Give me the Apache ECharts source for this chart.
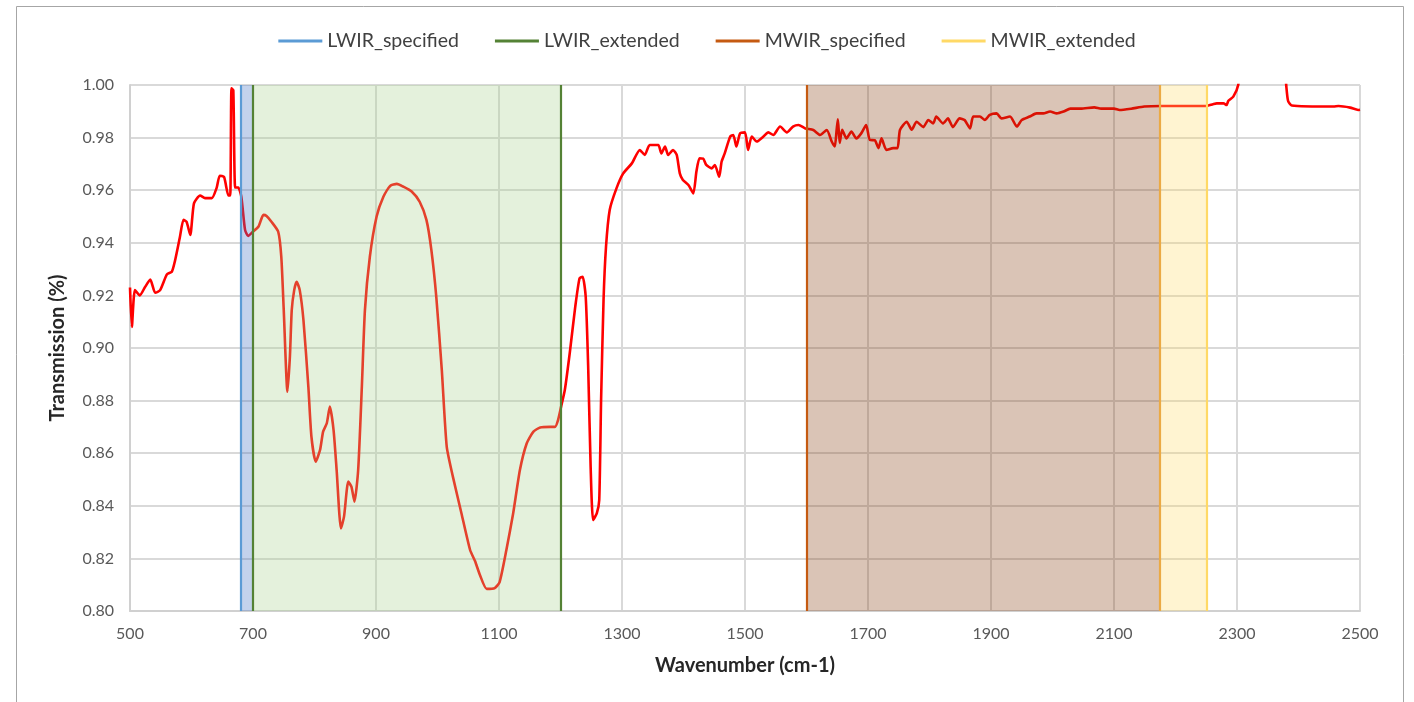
<!DOCTYPE html>
<html>
<head>
<meta charset="utf-8">
<script src="https://cdn.jsdelivr.net/npm/echarts@6/dist/echarts.min.js"></script>
<style>
html,body{margin:0;padding:0;background:#fff;}
#chart{width:1414px;height:702px;}
</style>
</head>
<body>
<div id="chart"></div>
<script>
// ---- data ----
const wavenumber = [500,503,508,516,524,533,541,549,560,568,573,581,587,592,598,604,614,622,633,641,646,653,660,663,665,668,671,676,681,687,692,700,709,717,722,730,741,746,750,756,760,763,767,771,776,782,790,795,802,809,814,820,825,831,836,843,848,855,860,865,871,877,882,890,901,912,923,934,944,958,971,982,990,998,1007,1015,1025,1039,1053,1061,1069,1080,1093,1101,1112,1123,1134,1145,1156,1167,1183,1191,1196,1201,1207,1215,1224,1231,1236,1241,1245,1249,1253,1259,1263,1266,1270,1274,1280,1291,1302,1316,1329,1337,1345,1359,1364,1370,1375,1383,1389,1394,1399,1408,1416,1421,1426,1432,1437,1446,1451,1458,1462,1467,1476,1481,1486,1492,1500,1505,1511,1519,1530,1538,1546,1557,1568,1578,1587,1598,1611,1622,1633,1641,1646,1649,1651,1654,1658,1665,1673,1681,1689,1697,1703,1711,1717,1722,1730,1741,1748,1752,1763,1771,1779,1790,1798,1806,1811,1822,1830,1838,1849,1857,1866,1871,1882,1890,1898,1909,1917,1931,1942,1950,1963,1974,1985,1996,2007,2018,2029,2046,2068,2079,2100,2109,2128,2149,2176,2249,2261,2267,2278,2283,2286,2294,2302,2306,2376,2380,2383,2389,2457,2465,2484,2497,2500];
const transmission = [0.923,0.908,0.922,0.920,0.923,0.926,0.921,0.922,0.928,0.929,0.933,0.942,0.9487,0.948,0.943,0.955,0.958,0.957,0.957,0.961,0.9655,0.965,0.958,0.958,0.9987,0.998,0.961,0.961,0.9575,0.945,0.9426,0.9442,0.9462,0.9506,0.9502,0.948,0.9442,0.9347,0.9144,0.8834,0.8967,0.9144,0.922,0.9252,0.922,0.9107,0.8853,0.8663,0.8568,0.8612,0.8682,0.8714,0.8777,0.8688,0.8536,0.8314,0.8359,0.8492,0.8473,0.8416,0.8536,0.8853,0.9144,0.9347,0.950,0.9575,0.9616,0.9624,0.9614,0.9595,0.9556,0.9487,0.9373,0.9195,0.8916,0.8625,0.8511,0.8371,0.8232,0.819,0.8137,0.8084,0.8087,0.811,0.8232,0.8371,0.8536,0.8637,0.8682,0.8698,0.870,0.870,0.8726,0.8777,0.884,0.898,0.9157,0.9265,0.9271,0.9195,0.8929,0.8549,0.8346,0.8371,0.8422,0.8802,0.9183,0.9385,0.9525,0.9607,0.9664,0.9702,0.9753,0.9734,0.9772,0.9772,0.974,0.9766,0.9734,0.9753,0.9734,0.9664,0.9639,0.962,0.9588,0.9671,0.9721,0.972,0.9696,0.9683,0.9696,0.9651,0.9709,0.974,0.9804,0.981,0.9766,0.9816,0.982,0.9753,0.9804,0.9785,0.9804,0.982,0.981,0.9842,0.982,0.9842,0.9848,0.9835,0.9829,0.981,0.9829,0.9785,0.9766,0.9829,0.987,0.978,0.983,0.9797,0.9823,0.9797,0.9816,0.9848,0.9791,0.979,0.976,0.9797,0.9753,0.976,0.976,0.9829,0.986,0.983,0.986,0.984,0.9867,0.9854,0.988,0.9854,0.9873,0.984,0.9873,0.9867,0.9835,0.988,0.988,0.9867,0.9886,0.9892,0.9873,0.988,0.9842,0.9867,0.988,0.9892,0.9892,0.9899,0.9892,0.9899,0.991,0.991,0.9915,0.991,0.991,0.9905,0.991,0.9918,0.992,0.992,0.9927,0.993,0.993,0.9924,0.994,0.9956,1.000,1.01,1.01,1.000,0.994,0.9922,0.9918,0.992,0.9914,0.9905,0.9906];

const bandNames  = ['LWIR_specified','LWIR_extended','MWIR_specified','MWIR_extended'];
const bandStart  = [680, 700, 1600, 2175];
const bandEnd    = [700, 1200, 2175, 2250];
const bandEdges  = [[680], [700, 1200], [1600], [2175, 2250]];

const xTicks = {min: 500, max: 2500, interval: 200};
const yTicks = {min: 0.80, max: 1.00, interval: 0.02};

// ---- styles ----
const bandLineColors = ['#5B9BD5', '#548235', '#C55A11', '#FFD966'];
const bandEdgeColors = [['#5B9BD5'], ['#548235','#548235'], ['#C55A11'], ['#EBAA45','#FFD966']];
const bandFill = ['rgba(68,114,196,0.32)', 'rgba(169,209,142,0.31)', 'rgba(132,60,12,0.30)', 'rgba(255,217,102,0.30)'];

const FONT = 'Lato, "Open Sans", sans-serif';

const spectrum = wavenumber.map((w, i) => [w, transmission[i]]);

const bandSeries = bandNames.map((name, i) => ({
  name: name,
  type: 'line',
  z: 3,
  data: [[bandStart[i], yTicks.max], [bandEnd[i], yTicks.max]],
  showSymbol: false,
  symbol: 'none',
  lineStyle: {color: bandLineColors[i], width: 0},
  itemStyle: {color: bandLineColors[i]},
  areaStyle: {color: bandFill[i], origin: 'start', opacity: 1},
  silent: true,
  markLine: {
    silent: true,
    symbol: 'none',
    label: {show: false},
    animation: false,
    data: bandEdges[i].map((x, k) => ({
      xAxis: x,
      lineStyle: {color: bandEdgeColors[i][k], width: 2.2, type: 'solid'}
    }))
  }
}));

const chart = echarts.init(document.getElementById('chart'), null, {renderer: 'canvas'});
chart.setOption({
  animation: false,
  backgroundColor: '#ffffff',
  textStyle: {fontFamily: FONT},
  graphic: [{
    type: 'rect',
    silent: true,
    shape: {x: 16.5, y: 6.5, width: 1387, height: 720},
    style: {fill: 'none', stroke: '#A6A6A6', lineWidth: 1}
  }],
  legend: {
    data: bandNames,
    top: 25,
    left: 'center',
    icon: 'rect',
    itemWidth: 44,
    itemHeight: 3,
    itemGap: 36,
    textStyle: {fontFamily: FONT, fontSize: 19.5, color: '#404040', lineHeight: 22}
  },
  grid: {left: 130, right: 54, top: 85, bottom: 91, containLabel: false},
  xAxis: {
    type: 'value',
    min: xTicks.min, max: xTicks.max, interval: xTicks.interval,
    name: 'Wavenumber (cm-1)',
    nameLocation: 'middle',
    nameGap: 45,
    nameTextStyle: {fontFamily: FONT, fontSize: 20, fontWeight: 'bold', color: '#262626'},
    axisLine: {show: true, lineStyle: {color: '#D0D0D0', width: 2}},
    axisTick: {show: false},
    axisLabel: {fontFamily: FONT, fontSize: 16, color: '#595959', margin: 15,
      formatter: v => String(v)},
    splitLine: {show: true, lineStyle: {color: '#D9D9D9', width: 2}}
  },
  yAxis: {
    type: 'value',
    min: yTicks.min, max: yTicks.max, interval: yTicks.interval,
    name: 'Transmission (%)',
    nameLocation: 'middle',
    nameGap: 62,
    nameTextStyle: {fontFamily: FONT, fontSize: 20, fontWeight: 'bold', color: '#262626'},
    axisLine: {show: true, lineStyle: {color: '#D0D0D0', width: 2}},
    axisTick: {show: false},
    axisLabel: {fontFamily: FONT, fontSize: 16, color: '#595959', margin: 16,
      formatter: v => v.toFixed(2)},
    splitLine: {show: true, lineStyle: {color: '#D9D9D9', width: 2}}
  },
  series: [{
    name: 'Transmission',
    type: 'line',
    z: 2,
    data: spectrum,
    showSymbol: false,
    symbol: 'none',
    smooth: 0.2,
    clip: true,
    lineStyle: {color: '#FF0000', width: 2.6, join: 'round'},
    silent: true
  }].concat(bandSeries)
});
</script>
</body>
</html>
